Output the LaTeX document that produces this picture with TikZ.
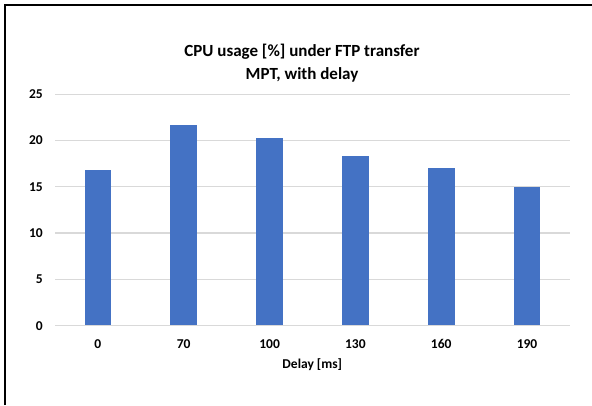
\documentclass[tikz,border=0pt]{standalone}
\usepackage{fontspec}
\setmainfont{Carlito}
\usepackage{xcolor}
\usetikzlibrary{positioning}
\definecolor{barblue}{HTML}{4472C4}
\definecolor{gridgray}{HTML}{D9D9D9}

\begin{document}
\begin{tikzpicture}[x=1pt,y=1pt,
    ticklabel/.style={font=\fontsize{13.5}{16}\selectfont\bfseries, inner sep=0pt},
    charttitle/.style={font=\fontsize{17}{20}\selectfont\bfseries, inner sep=0pt, anchor=base}]
    \useasboundingbox (0,0) rectangle (592,405);
    % Frame (top and left edge only)
    \draw[line width=2pt] (5,0) -- (5,400) -- (592,400);

    % Title
    \node[charttitle] (title) at (302,348.3) {CPU usage [\%] under FTP transfer};
    \node[charttitle] (subtitle) at (302,325) {MPT, with delay};

    % Gridlines and y labels
    \foreach \v in {0,5,...,25} {
        \draw[gridgray, line width=1.3pt] (55,79.3+\v*9.26) -- (570,79.3+\v*9.26);
        \node[ticklabel, anchor=base east] (y\v) at (43,75+\v*9.26) {\v};
    }

    % Bars
    \foreach \i/\d/\v in {0/0/16.8, 1/70/21.67, 2/100/20.27, 3/130/18.29, 4/160/17.03, 5/190/14.98} {
        \pgfmathsetmacro\cx{55+85.83*(\i+0.5)}
        \fill[barblue] (\cx-13.35,80) rectangle (\cx+13.35,79.3+\v*9.26);
        \node[ticklabel, anchor=base] (x\i) at (\cx,56.2) {\d};
    }

    % Axis title
    \node[ticklabel, anchor=base] (xtitle) at (312.3,37) {Delay [ms]};
\end{tikzpicture}
\end{document}
